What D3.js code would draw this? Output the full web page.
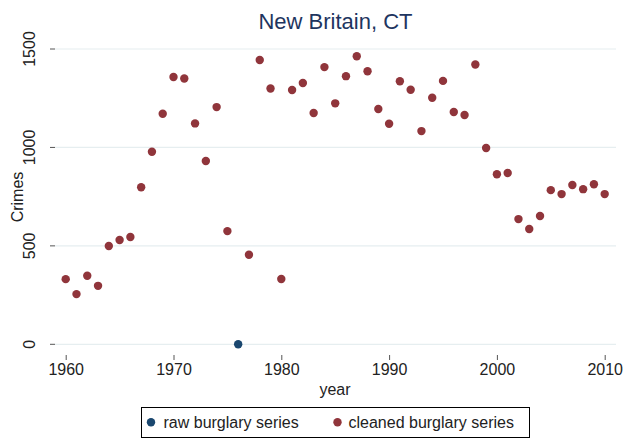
<!DOCTYPE html>
<html lang="en">
<head>
<meta charset="UTF-8"/>
<title>New Britain, CT</title>
<script src="https://d3js.org/d3.v7.min.js"></script>
<style>
  body { margin: 0; background: #fff; }
  svg { display: block; font-family: "Liberation Sans", Arial, sans-serif; }
  .grid line { stroke: #e6eef0; stroke-width: 1.2; }
  .axis text { fill: #222; font-size: 16px; }
  .axis line { stroke: #555; }
</style>
</head>
<body>
<script>

// data
var years = [1960,1961,1962,1963,1964,1965,1966,1967,1968,1969,
             1970,1971,1972,1973,1974,1975,1977,1978,1979,1980,
             1981,1982,1983,1984,1985,1986,1987,1988,1989,1990,
             1991,1992,1993,1994,1995,1996,1997,1998,1999,2000,
             2001,2002,2003,2004,2005,2006,2007,2008,2009,2010];
var cleaned = [331,255,348,297,499,530,545,798,978,1171,
               1358,1350,1122,931,1205,575,455,1444,1299,332,
               1292,1327,1175,1408,1224,1362,1463,1387,1195,1120,
               1336,1293,1083,1252,1338,1180,1165,1421,997,864,
               870,636,586,652,783,763,809,788,813,763];
var rawYears = [1976];
var rawValues = [0];
var xTicks = [1960,1970,1980,1990,2000,2010];
var yTicks = [0,500,1000,1500];

var W = 636, H = 438;
var cRaw = "#1a476f", cClean = "#90353b";

var svg = d3.select("body").append("svg")
    .attr("width", W)
    .attr("height", H);

var x = d3.scaleLinear().domain([1960, 2010]).range([65.7, 604.7]);
var y = d3.scaleLinear().domain([0, 1500]).range([344.3, 49]);

// gridlines
svg.append("g")
    .attr("class", "grid")
    .selectAll("line")
    .data(yTicks)
    .enter().append("line")
    .attr("x1", 55).attr("x2", 616)
    .attr("y1", function(d) { return y(d); })
    .attr("y2", function(d) { return y(d); });

// y axis
var yAxis = svg.append("g")
    .attr("class", "axis")
    .attr("transform", "translate(55,0)")
    .call(d3.axisLeft(y).tickValues(yTicks).tickSize(5).tickPadding(8).tickFormat(d3.format("d")));
yAxis.select(".domain").remove();
yAxis.selectAll("text")
    .attr("transform", function(d) { return "rotate(-90," + (-20) + "," + y(d) + ")"; })
    .attr("x", -20)
    .attr("dy", null)
    .attr("y", function(d) { return y(d); })
    .attr("text-anchor", "middle");
yAxis.selectAll(".tick").attr("transform", null);
yAxis.selectAll(".tick line")
    .attr("y1", function(d) { return y(d); })
    .attr("y2", function(d) { return y(d); });

// x axis
var xAxis = svg.append("g")
    .attr("class", "axis")
    .attr("transform", "translate(0,355)")
    .call(d3.axisBottom(x).tickValues(xTicks).tickSize(5).tickPadding(4).tickFormat(d3.format("d")));
xAxis.select(".domain").remove();

// axis titles
svg.append("text")
    .attr("transform", "translate(23,197) rotate(-90)")
    .attr("text-anchor", "middle")
    .style("font-size", "16px")
    .style("fill", "#222")
    .text("Crimes");

svg.append("text")
    .attr("x", 335).attr("y", 395)
    .attr("text-anchor", "middle")
    .style("font-size", "16px")
    .style("fill", "#222")
    .text("year");

// title
svg.append("text")
    .attr("x", 335.5).attr("y", 29)
    .attr("text-anchor", "middle")
    .style("font-size", "22px")
    .style("fill", "#1e3560")
    .text("New Britain, CT");

// points
svg.append("g").selectAll("circle")
    .data(rawYears.map(function(d, i) { return [d, rawValues[i]]; }))
    .enter().append("circle")
    .attr("cx", function(d) { return x(d[0]); })
    .attr("cy", function(d) { return y(d[1]); })
    .attr("r", 4.2)
    .attr("fill", cRaw);

svg.append("g").selectAll("circle")
    .data(years.map(function(d, i) { return [d, cleaned[i]]; }))
    .enter().append("circle")
    .attr("cx", function(d) { return x(d[0]); })
    .attr("cy", function(d) { return y(d[1]); })
    .attr("r", 4.2)
    .attr("fill", cClean);

// legend
var legend = svg.append("g");
legend.append("rect")
    .attr("x", 141.5).attr("y", 407.5)
    .attr("width", 388).attr("height", 30)
    .attr("fill", "#fff")
    .attr("stroke", "#000")
    .attr("stroke-width", 1);

var items = [
  { label: "raw burglary series", color: cRaw, mx: 151, tx: 163.5 },
  { label: "cleaned burglary series", color: cClean, mx: 337.5, tx: 348.5 }
];
items.forEach(function(it) {
  legend.append("circle")
      .attr("cx", it.mx).attr("cy", 422.3)
      .attr("r", 4.2)
      .attr("fill", it.color);
  legend.append("text")
      .attr("x", it.tx).attr("y", 428)
      .style("font-size", "16px")
      .style("fill", "#222")
      .text(it.label);
});

</script>
</body>
</html>
